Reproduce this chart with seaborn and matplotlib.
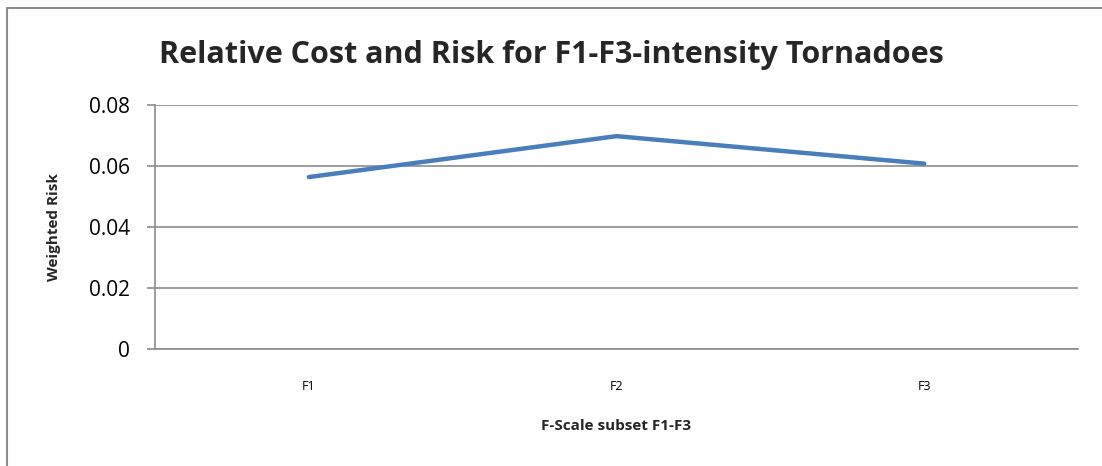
import matplotlib
matplotlib.use("Agg")
import matplotlib.pyplot as plt
import seaborn as sns
import pandas as pd
from matplotlib.lines import Line2D

categories = ["F1", "F2", "F3"]
weighted_risk = [0.0563, 0.0697, 0.0607]
y_ticks = [0, 0.02, 0.04, 0.06, 0.08]
y_tick_labels = ["0", "0.02", "0.04", "0.06", "0.08"]

sns.set_theme(style="white")
plt.rcParams['font.family'] = ['Open Sans', 'DejaVu Sans']

df = pd.DataFrame({"cat": categories, "risk": weighted_risk})

fig = plt.figure(figsize=(11.02, 4.66), dpi=100)
ax = fig.add_axes([155/1102, 1 - 349/466, (1078 - 155)/1102, (349 - 104.7)/466])

sns.lineplot(data=df, x="cat", y="risk", ax=ax, color="#4A7EBB", linewidth=3.2,
             solid_capstyle="round", sort=False)

ax.set_xlim(-0.5, 2.5)
ax.set_ylim(0, 0.08)
ax.set_yticks(y_ticks)
ax.set_yticklabels(y_tick_labels, fontsize=15)
ax.grid(axis="y", color="#8C8C8C", linewidth=1.2)
ax.grid(axis="x", visible=False)
ax.set_axisbelow(True)
for s in ["top", "right"]:
    ax.spines[s].set_visible(False)
for s in ["left", "bottom"]:
    ax.spines[s].set_color("#8C8C8C")
    ax.spines[s].set_linewidth(1.2)
ax.tick_params(axis="y", which="major", length=6, width=1.2, color="#8C8C8C",
               left=True, pad=12, labelcolor="black")
ax.tick_params(axis="x", length=0, pad=22, labelsize=9, labelcolor="black")

ax.set_xlabel("F-Scale subset F1-F3", fontsize=11, fontweight="bold", labelpad=19)
ax.set_ylabel("Weighted Risk", fontsize=11, fontweight="bold", labelpad=20)
fig.text(0.5, 1 - 55/466, "Relative Cost and Risk for F1-F3-intensity Tornadoes",
         ha="center", va="center", fontsize=22, fontweight="bold")

# chart-area frame: only top and left edges visible in the crop
fig.lines.append(Line2D([7/1102, 1.0], [1 - 7.5/466, 1 - 7.5/466], transform=fig.transFigure,
                        color="#8C8C8C", linewidth=1.5))
fig.lines.append(Line2D([7/1102, 7/1102], [0.0, 1 - 7.5/466], transform=fig.transFigure,
                        color="#8C8C8C", linewidth=1.5))

fig.savefig("out.png", dpi=100)
